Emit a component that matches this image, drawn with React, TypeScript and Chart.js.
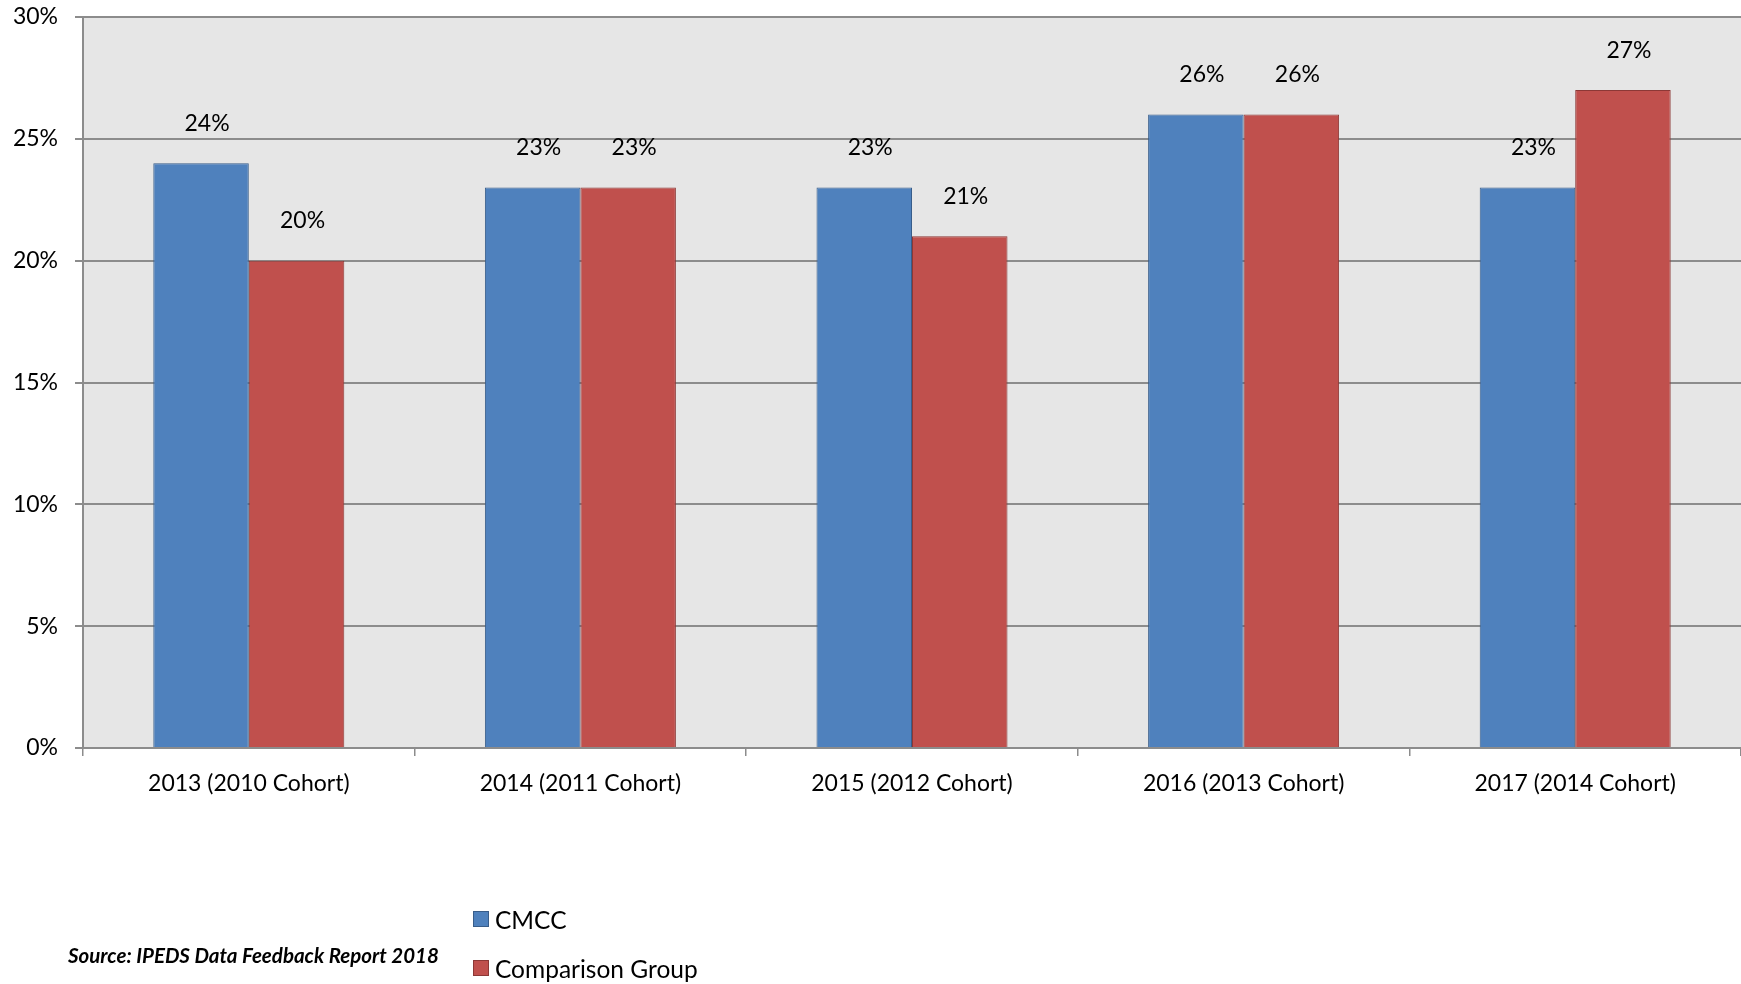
import React, { useEffect, useRef } from "react";
import { Chart, registerables } from "chart.js";

Chart.register(...registerables);

const categories = [
  "2013 (2010 Cohort)",
  "2014 (2011 Cohort)",
  "2015 (2012 Cohort)",
  "2016 (2013 Cohort)",
  "2017 (2014 Cohort)",
];
const cmccValues = [24, 23, 23, 26, 23];
const comparisonValues = [20, 23, 21, 26, 27];
const seriesNames = ["CMCC", "Comparison Group"];
const yTicks = [0, 5, 10, 15, 20, 25, 30];
const sourceNote = "Source: IPEDS Data Feedback Report 2018";

const BLUE = "#4f81bd";
const BLUE_BORDER = "#385d8a";
const RED = "#c0504d";
const RED_BORDER = "#8c3836";
const FONT = "Lato, 'Open Sans', sans-serif";

const plotBg = {
  id: "plotBg",
  beforeDraw(chart: any) {
    const { ctx, chartArea } = chart;
    ctx.save();
    ctx.fillStyle = "#e6e6e6";
    ctx.fillRect(chartArea.left, chartArea.top, chartArea.right - chartArea.left, chartArea.bottom - chartArea.top);
    ctx.restore();
  },
};

const valueLabels = {
  id: "valueLabels",
  afterDatasetsDraw(chart: any) {
    const { ctx } = chart;
    ctx.save();
    ctx.font = `23px ${FONT}`;
    ctx.fillStyle = "#000";
    ctx.textAlign = "center";
    ctx.textBaseline = "middle";
    chart.data.datasets.forEach((ds: any, di: number) => {
      const meta = chart.getDatasetMeta(di);
      meta.data.forEach((bar: any, i: number) => {
        ctx.fillText(ds.data[i] + "%", bar.x + 6, bar.y - 40);
      });
    });
    ctx.restore();
  },
};

export default function App() {
  const ref = useRef<HTMLCanvasElement>(null);

  useEffect(() => {
    document.body.style.margin = "0";
    const chart = new Chart(ref.current!, {
      type: "bar",
      data: {
        labels: categories,
        datasets: [
          {
            label: seriesNames[0],
            data: cmccValues,
            backgroundColor: BLUE,
            borderColor: BLUE_BORDER,
            borderWidth: 1,
            categoryPercentage: 0.576,
            barPercentage: 1.0,
          },
          {
            label: seriesNames[1],
            data: comparisonValues,
            backgroundColor: RED,
            borderColor: RED_BORDER,
            borderWidth: 1,
            categoryPercentage: 0.576,
            barPercentage: 1.0,
          },
        ],
      },
      options: {
        animation: false,
        responsive: true,
        maintainAspectRatio: false,
        layout: { padding: { left: 0, right: 0, top: 17, bottom: 0 } },
        plugins: {
          legend: { display: false },
          tooltip: { enabled: false },
        },
        scales: {
          x: {
            grid: {
              drawOnChartArea: false,
              drawTicks: true,
              tickLength: 8,
              color: "#8c8c8c",
              lineWidth: 1.5,
            },
            border: { color: "#8c8c8c", width: 2 },
            ticks: {
              color: "#000",
              font: { family: FONT, size: 23 },
              padding: 14,
              maxRotation: 0,
            },
            afterFit(scale: any) {
              scale.height = 984 - 748;
              scale.paddingLeft = 0;
              scale.paddingRight = 0;
            },
          },
          y: {
            min: 0,
            max: 30,
            afterBuildTicks(scale: any) {
              scale.ticks = yTicks.map((v) => ({ value: v }));
            },
            grid: {
              drawOnChartArea: true,
              drawTicks: true,
              tickLength: 8,
              color: "#8c8c8c",
              lineWidth: 2,
            },
            border: { color: "#8c8c8c", width: 2 },
            ticks: {
              color: "#000",
              font: { family: FONT, size: 23 },
              padding: 17,
              callback: (v: any) => v + "%",
            },
            afterFit(scale: any) {
              scale.width = 83;
              scale.paddingTop = 0;
              scale.paddingBottom = 0;
            },
          },
        },
      },
      plugins: [plotBg, valueLabels],
    });
    return () => chart.destroy();
  }, []);

  return (
    <div style={{ position: "fixed", left: 0, top: 0, width: 1741, height: 984, background: "#fff" }}>
      <canvas ref={ref} />
      <div
        style={{
          position: "absolute",
          left: 68,
          top: 943,
          fontFamily: FONT,
          fontSize: 20.5,
          fontWeight: "bold",
          fontStyle: "italic",
          color: "#000",
          whiteSpace: "nowrap",
          lineHeight: "24px",
        }}
      >
        {sourceNote}
      </div>
      {seriesNames.map((name, i) => (
        <div
          key={name}
          style={{
            position: "absolute",
            left: 473,
            top: (i === 0 ? 919 : 968) - 14,
            height: 28,
            display: "flex",
            alignItems: "center",
            fontFamily: FONT,
            fontSize: 24.5,
            color: "#000",
            whiteSpace: "nowrap",
          }}
        >
          <span
            style={{
              display: "inline-block",
              width: 14,
              height: 14,
              background: i === 0 ? BLUE : RED,
              border: `1px solid ${i === 0 ? BLUE_BORDER : RED_BORDER}`,
              marginRight: 6,
            }}
          />
          {name}
        </div>
      ))}
    </div>
  );
}
